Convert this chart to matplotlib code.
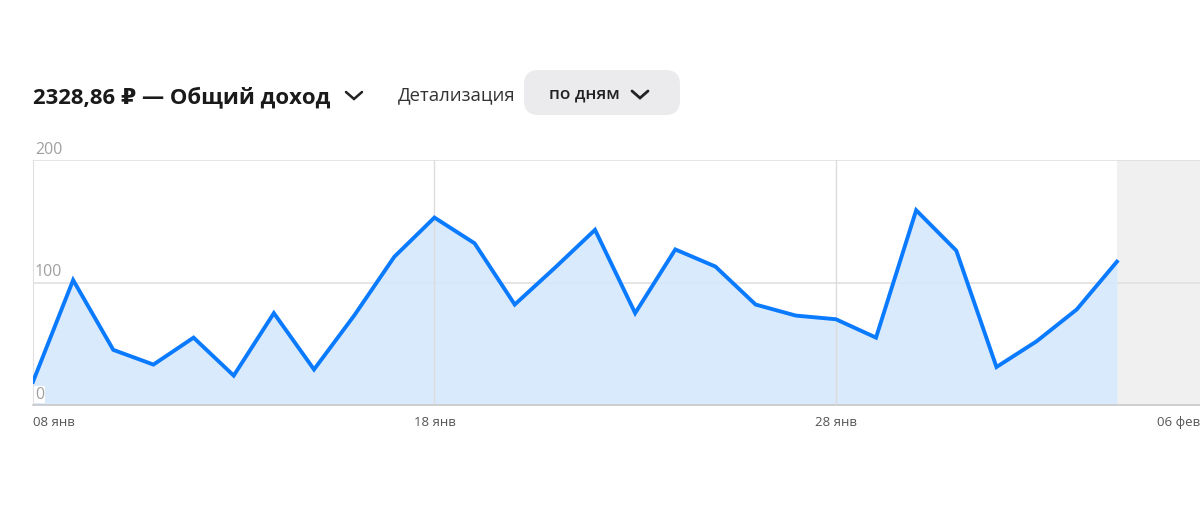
import matplotlib
matplotlib.use("Agg")
import matplotlib.pyplot as plt
from matplotlib.patches import FancyBboxPatch
from matplotlib.lines import Line2D
import numpy as np

# Data
days = list(range(28))
values = [19, 102, 45, 33, 55, 24, 75, 29, 73, 121, 153, 132, 82, 112, 143, 75,
          127, 113, 82, 73, 70, 55, 159, 126, 31, 52, 78, 117]
tick_days = [0, 10, 20, 29]
tick_labels = ["08 янв", "18 янв", "28 янв", "06 фев"]
y_ticks = [0, 100, 200]
total_title = "2328,86 ₽ — Общий доход"
detail_label = "Детализация"
detail_value = "по дням"
incomplete_start = 27

W, H = 1200, 508
fig = plt.figure(figsize=(W / 100, H / 100), dpi=100)
fig.patch.set_facecolor("white")

def fx(px):
    return px / W

def fy(py):
    return 1 - py / H

ax = fig.add_axes([fx(33), fy(405), 1 - fx(33), fy(160) - fy(405)])
ax.set_xlim(0, 29.07)
ax.set_ylim(0, 200)
ax.set_facecolor("white")

# gray incomplete region
ax.axvspan(incomplete_start, 29.07, color="#f0f0f0", zorder=0, lw=0)

# grid
for yv in [100, 200]:
    ax.axhline(yv, color="#e0e0e0", lw=1.2, zorder=1)
for d in tick_days[1:3]:
    ax.axvline(d, color="#dcdcdc", lw=1.0, zorder=3)

ax.fill_between(days, values, 0, color="#d6e8fd", alpha=0.9, zorder=2, lw=0)
ax.plot(days, values, color="#0a7aff", lw=2.8, zorder=4, solid_joinstyle="miter")

for s in ["top", "right"]:
    ax.spines[s].set_visible(False)
ax.spines["left"].set_color("#e0e0e0")
ax.spines["bottom"].set_color("#c8c8c8")
ax.spines["bottom"].set_linewidth(1.2)
ax.set_xticks([])
ax.set_yticks([])

# y labels above grid lines
for yv in y_ticks:
    ax.text(0.05, yv + 2, str(yv), color="#a0a0a0", fontsize=11.5,
            family=["Open Sans", "DejaVu Sans"], ha="left", va="bottom", zorder=5,
            bbox=dict(facecolor="white", edgecolor="none", pad=0.5) if yv == 0 else None)

# x labels
for d, lab in zip(tick_days, tick_labels):
    ha = "center"
    xd = d
    if d == 0:
        ha = "left"
    if d == tick_days[-1]:
        ha = "right"
        xd = 29.07
    ax.text(xd, -9, lab, color="#555555", fontsize=9.5, family=["Open Sans", "DejaVu Sans"],
            ha=ha, va="top", clip_on=False)

# Header
fig.text(fx(33), fy(97), total_title, fontsize=15.9, fontweight="bold",
         family=["Open Sans", "DejaVu Sans"], color="#1a1a1a", ha="left", va="center")

def chevron(cx, cy, w=8, h=6, lw=2.0, color="#222222"):
    line = Line2D([fx(cx - w), fx(cx), fx(cx + w)], [fy(cy - h / 2), fy(cy + h / 2 + 1), fy(cy - h / 2)],
                  transform=fig.transFigure, color=color, lw=lw, solid_capstyle="round",
                  solid_joinstyle="miter")
    fig.add_artist(line)

chevron(354, 95, lw=1.8)
fig.text(fx(398), fy(95), detail_label, fontsize=13.3, family=["Open Sans", "DejaVu Sans"],
         color="#333333", ha="left", va="center")

btn = FancyBboxPatch((fx(524), fy(115)), fx(680) - fx(524), fy(70) - fy(115),
                     boxstyle="round,pad=0,rounding_size=0.012",
                     transform=fig.transFigure, facecolor="#ebebee", edgecolor="none",
                     mutation_aspect=W / H)
fig.add_artist(btn)
fig.text(fx(549), fy(95), detail_value, fontsize=12.3, fontweight="semibold",
         family=["Open Sans", "DejaVu Sans"], color="#222222", ha="left", va="center")
chevron(640, 94)

fig.savefig("out.png", dpi=100, facecolor="white")
